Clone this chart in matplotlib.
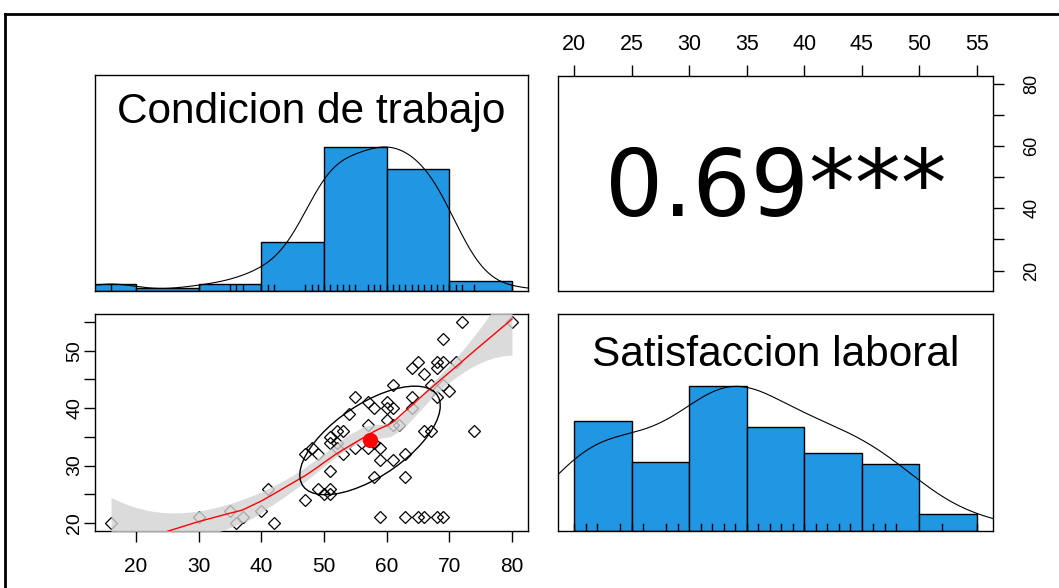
import numpy as np
import matplotlib
matplotlib.use("Agg")
import matplotlib.pyplot as plt
from matplotlib.patches import Rectangle

# paired observations read off the scatter panel (distinct points only;
# the overplotted repeats are accounted for by the histogram counts below)
cond = [16, 30, 35, 36, 37, 40, 41, 42, 47, 49, 50, 51, 51, 51, 47, 48, 49, 51, 52, 53,
        51, 52, 52, 53, 54, 55, 55, 57, 57, 57, 58, 58, 59, 59, 58, 59, 60, 60, 61, 61,
        60, 61, 62, 61, 63, 63, 63, 64, 64, 64, 65, 66, 66, 67, 65, 66, 67, 68, 68, 69,
        68, 69, 70, 68, 69, 69, 71, 72, 74, 80]
satis = [20, 21, 22, 20, 21, 22, 26, 20, 24, 26, 25, 25, 26, 29, 32, 33, 32, 35, 36, 36,
         34, 34, 33, 32, 39, 42, 33, 41, 37, 33, 40, 34, 33, 31, 28, 21, 41, 40, 40, 44,
         38, 37, 37, 31, 32, 28, 21, 42, 40, 47, 48, 46, 36, 36, 21, 21, 44, 42, 48, 48,
         47, 44, 43, 21, 21, 52, 48, 55, 36, 55]

# histogram bars (counts per bin)
cond_breaks = [10, 20, 30, 40, 50, 60, 70, 80]
cond_counts = [4, 2, 4, 29, 86, 73, 6]
satis_breaks = [20, 25, 30, 35, 40, 45, 50, 55]
satis_counts = [38, 24, 50, 36, 27, 23, 6]

names = ["Condicion de trabajo", "Satisfaccion laboral"]
cor_label = "0.69***"

cond_ticks = [20, 30, 40, 50, 60, 70, 80]
cond_labels = ["20", "", "40", "", "60", "", "80"]
satis_ticks = [20, 25, 30, 35, 40, 45, 50, 55]
satis_labels = ["20", "", "30", "", "40", "", "50", ""]

x = np.array(cond, float)
y = np.array(satis, float)
assert len(x) == len(y)

HIST = "#2196E3"
W, H = 1059, 588
plt.rcParams["font.family"] = ["Liberation Sans", "DejaVu Sans"]


def box(x0, y0, x1, y1):
    return [x0 / W, 1 - y1 / H, (x1 - x0) / W, (y1 - y0) / H]


def padded(v):
    lo, hi = np.min(v), np.max(v)
    d = (hi - lo) * 0.04
    return lo - d, hi + d


def freq(v, breaks, counts):
    # spread each bin's count evenly over the distinct points seen in it
    idx = np.clip(np.searchsorted(breaks, v, side="left") - 1, 0, len(counts) - 1)
    f = np.zeros(len(v))
    for k in range(len(counts)):
        m = idx == k
        if m.any():
            f[m] = counts[k] / m.sum()
    return f


def wquant(v, f, p):
    o = np.argsort(v)
    c = np.cumsum(f[o]) / f.sum()
    return v[o][np.searchsorted(c, p)]


def kde(v, f):
    # R density(bw="nrd", adjust=1.2), scaled to max 1
    N = f.sum()
    m = (f * v).sum() / N
    sd = np.sqrt((f * (v - m) ** 2).sum() / (N - 1))
    iqr = wquant(v, f, 0.75) - wquant(v, f, 0.25)
    bw = 1.06 * min(sd, iqr / 1.34) * N ** -0.2 * 1.2
    g = np.linspace(v.min() - 3 * bw, v.max() + 3 * bw, 512)
    d = (f[None, :] * np.exp(-0.5 * ((g[:, None] - v[None, :]) / bw) ** 2)).sum(1)
    return g, d / d.max()


def local_row(x0, xv, f, rw, span, deg):
    N = f.sum()
    d = np.abs(xv - x0)
    o = np.argsort(d)
    c = np.cumsum(f[o])
    h = d[o][min(np.searchsorted(c, span * N), len(d) - 1)] * 1.0001
    t = np.clip(1 - (d / h) ** 3, 0, None) ** 3
    w = t * f * rw
    X = np.column_stack([(xv - x0) ** k for k in range(deg + 1)])
    A = X.T @ (X * w[:, None])
    return np.linalg.solve(A, (X * w[:, None]).T)[0]


def robust(res, f):
    u = np.abs(res) / (6 * wquant(np.abs(res), f, 0.5))
    return np.where(u < 1, (1 - u ** 2) ** 2, 0.0)


def lowess(xv, yv, span=2 / 3, it=3):
    one = np.ones(len(xv))
    rw = one.copy()
    g = np.unique(xv)
    for k in range(it):
        fit = np.array([local_row(a, xv, one, rw, span, 1) @ yv for a in xv])
        rw = robust(yv - fit, one)
    return g, np.array([local_row(a, xv, one, rw, span, 1) @ yv for a in g])


def loess_band(xv, yv, f, span=0.75, z=1.97, ngrid=47):
    # degree 2, symmetric family, frequency weights
    N = f.sum()
    rw = np.ones(len(xv))
    for _ in range(4):
        fit = np.array([local_row(a, xv, f, rw, span, 2) @ yv for a in xv])
        rw = robust(yv - fit, f)
    fit = np.array([local_row(a, xv, f, rw, span, 2) @ yv for a in xv])
    sigma = np.sqrt((f * rw * (yv - fit) ** 2).sum() / ((f * rw).sum() - 4))
    g = np.linspace(xv.min(), xv.max(), ngrid)
    L = np.array([local_row(a, xv, f, rw, span, 2) for a in g])
    pf = L @ yv
    se = sigma * np.sqrt((L ** 2 / f[None, :]).sum(1))
    return g, pf - z * se, pf + z * se


fig = plt.figure(figsize=(W / 100, H / 100), dpi=100)
fig.patch.set_facecolor("white")
# outer frame of the screenshot
fig.add_artist(plt.Line2D([5 / W, 5 / W], [0, 1 - 14 / H], color="black", lw=2))
fig.add_artist(plt.Line2D([5 / W, 1], [1 - 14 / H, 1 - 14 / H], color="black", lw=2))

xlim_c = padded(x)
xlim_s = padded(y)

axA = fig.add_axes(box(95, 75, 528, 291))
axB = fig.add_axes(box(558, 76, 993, 291))
axC = fig.add_axes(box(95, 314, 528, 531))
axD = fig.add_axes(box(558, 314, 993, 531))

for ax in (axA, axB, axC, axD):
    for s in ax.spines.values():
        s.set_linewidth(1.0)
    ax.tick_params(length=8, width=1.0, labelsize=15)
    ax.set_xticks([])
    ax.set_yticks([])

fc = freq(x, cond_breaks, cond_counts)
fs = freq(y, satis_breaks, satis_counts)


def diag(ax, v, f, breaks, counts, lim, title, ty):
    c = np.array(counts, float)
    hgt = c / c.max()
    for a, b, h in zip(breaks[:-1], breaks[1:], hgt):
        ax.add_patch(Rectangle((a, 0), b - a, h, facecolor=HIST, edgecolor="black", lw=1.0))
    g, d = kde(v, f)
    ax.plot(g, d, color="black", lw=0.8)
    for u in np.unique(v):
        ax.plot([u, u], [0, 0.045], color="black", lw=1.0)
    ax.set_xlim(*lim)
    ax.set_ylim(0, 1.5)
    ax.text(0.5, ty, title, transform=ax.transAxes, ha="center", va="center",
            fontsize=30.5)


diag(axA, x, fc, cond_breaks, cond_counts, xlim_c, names[0], 0.83)
diag(axD, y, fs, satis_breaks, satis_counts, xlim_s, names[1], 0.81)

# correlation panel with the top and right axes
axB.set_xlim(*xlim_s)
axB.set_ylim(*xlim_c)
axB.xaxis.tick_top()
axB.set_xticks(satis_ticks)
axB.set_xticklabels([str(t) for t in satis_ticks])
axB.tick_params(axis="x", pad=7, labelsize=15.5)
axB.yaxis.tick_right()
axB.set_yticks(cond_ticks)
axB.set_yticklabels(cond_labels, rotation=90, va="center")
axB.tick_params(axis="y", pad=14, labelsize=13)
axB.text(0.5, 0.47, cor_label, transform=axB.transAxes, ha="center", va="center",
         fontsize=66, family="DejaVu Sans")

# scatter panel
axC.plot(x, y, "D", mfc="none", mec="black", ms=6.5, mew=0.9, zorder=2)
gx, glo, ghi = loess_band(x, y, fc)
axC.fill_between(gx, glo, ghi, color="lightgrey", alpha=0.8, lw=0, zorder=3)
lx, ly = lowess(x, y)
axC.plot(lx, ly, color="red", lw=1.0, zorder=4)
r = np.corrcoef(x, y)[0, 1]
th = np.sign(r) / np.sqrt(2)
ang = np.linspace(0, 2 * np.pi, 52)
circ = np.column_stack([np.cos(ang), np.sin(ang)])
shape = np.diag([np.sqrt(1 + r), np.sqrt(1 - r)]) @ np.array([[th, th], [-th, th]])
el = circ @ shape
axC.plot(el[:, 0] * x.std(ddof=1) + x.mean(), el[:, 1] * y.std(ddof=1) + y.mean(),
         color="black", lw=1.0, zorder=5)
axC.plot(x.mean(), y.mean(), "o", color="red", ms=10, zorder=6)
axC.set_xlim(*xlim_c)
axC.set_ylim(*xlim_s)
axC.set_xticks(cond_ticks)
axC.set_xticklabels([str(t) for t in cond_ticks])
axC.tick_params(axis="x", pad=11, labelsize=15)
axC.set_yticks(satis_ticks)
axC.set_yticklabels(satis_labels, rotation=90, va="center")
axC.tick_params(axis="y", pad=0.5, labelsize=14)

fig.savefig("out.png", dpi=100)
